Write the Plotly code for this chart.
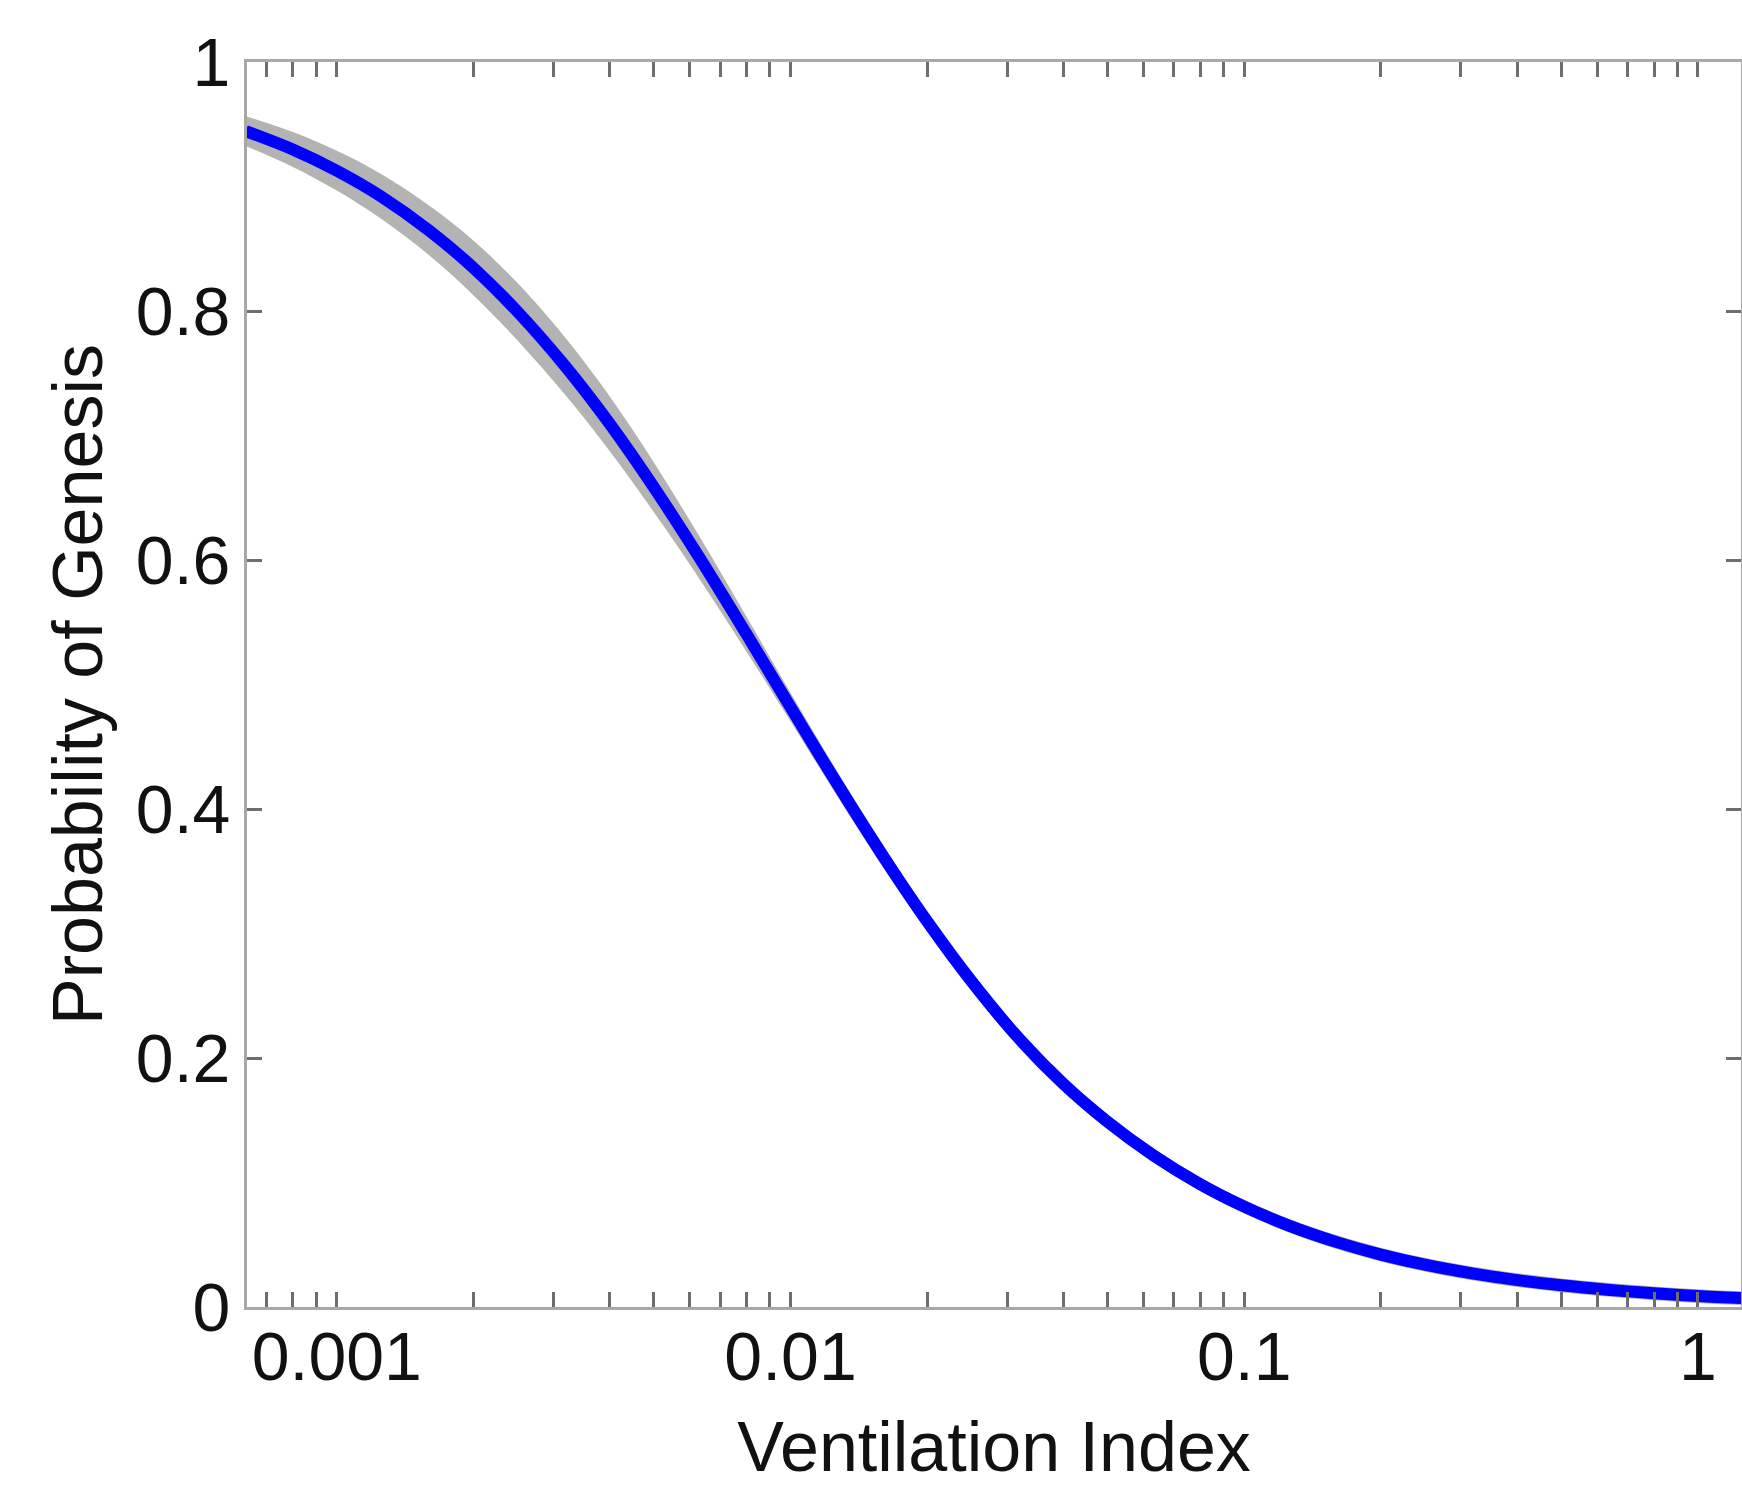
import math
import plotly.graph_objects as go

# Ventilation index (log scale) and fitted probability of genesis
ventilation = [0.00063, 0.0008, 0.001, 0.00125, 0.0016, 0.002, 0.0025, 0.0032,
               0.004, 0.005, 0.0063, 0.008, 0.01, 0.0125, 0.016, 0.02, 0.025,
               0.032, 0.04, 0.05, 0.063, 0.08, 0.1, 0.125, 0.16, 0.2, 0.25,
               0.32, 0.4, 0.5, 0.63, 0.8, 1.0, 1.25]
prob_genesis = [0.9445, 0.9297, 0.9127, 0.8922, 0.8645, 0.8347, 0.7996, 0.7549,
                0.7091, 0.6583, 0.6018, 0.5404, 0.4819, 0.4238, 0.3621, 0.3098,
                0.2620, 0.2150, 0.1790, 0.1487, 0.1219, 0.0986, 0.0806, 0.0656,
                0.0521, 0.0421, 0.0340, 0.0268, 0.0216, 0.0174, 0.0139, 0.0110,
                0.0088, 0.0071]
# Uncertainty envelope around the fit
prob_upper = [0.9565, 0.9437, 0.9287, 0.9102, 0.8845, 0.8567, 0.8226, 0.7779,
              0.7311, 0.6783, 0.6188, 0.5544, 0.4934, 0.4338, 0.3711, 0.3173,
              0.2690, 0.2215, 0.1850, 0.1547, 0.1274, 0.1041, 0.0861, 0.0711,
              0.0576, 0.0476, 0.0395, 0.0323, 0.0271, 0.0229, 0.0194, 0.0165,
              0.0143, 0.0126]
prob_lower = [0.9325, 0.9157, 0.8967, 0.8742, 0.8445, 0.8127, 0.7766, 0.7319,
              0.6871, 0.6383, 0.5848, 0.5264, 0.4704, 0.4138, 0.3531, 0.3023,
              0.2550, 0.2085, 0.1730, 0.1427, 0.1164, 0.0931, 0.0751, 0.0601,
              0.0466, 0.0366, 0.0285, 0.0213, 0.0161, 0.0119, 0.0084, 0.0055,
              0.0033, 0.0016]

# Axis ticks
x_decades = [0.001, 0.01, 0.1, 1]
x_decade_labels = ["0.001", "0.01", "0.1", "1"]
x_minor = [0.0007, 0.0008, 0.0009,
           0.002, 0.003, 0.004, 0.005, 0.006, 0.007, 0.008, 0.009,
           0.02, 0.03, 0.04, 0.05, 0.06, 0.07, 0.08, 0.09,
           0.2, 0.3, 0.4, 0.5, 0.6, 0.7, 0.8, 0.9]
y_ticks = [0, 0.2, 0.4, 0.6, 0.8, 1]
y_tick_labels = ["0", "0.2", "0.4", "0.6", "0.8", "1"]
x_range = [0.000634, 1.244]

x_tickvals = sorted(x_decades + x_minor)
x_ticktext = [x_decade_labels[x_decades.index(v)] if v in x_decades else ""
              for v in x_tickvals]

FONT = "Liberation Sans, Arial, Helvetica, sans-serif"
AXIS_GREY = "#a8a8a8"
TICK_GREY = "#6e6e6e"
TEXT = "#111111"

fig = go.Figure()

# grey envelope (lower edge, then filled up to the upper edge)
fig.add_trace(go.Scatter(
    x=ventilation, y=prob_lower, mode="lines",
    line=dict(width=0, shape="spline", smoothing=1.0),
    hoverinfo="skip", showlegend=False))
fig.add_trace(go.Scatter(
    x=ventilation, y=prob_upper, mode="lines", fill="tonexty",
    fillcolor="#b3b3b3",
    line=dict(width=0, shape="spline", smoothing=1.0),
    hoverinfo="skip", showlegend=False))
# fitted curve
fig.add_trace(go.Scatter(
    x=ventilation, y=prob_genesis, mode="lines",
    line=dict(color="#0000ff", width=12, shape="spline", smoothing=1.0),
    showlegend=False))

fig.update_layout(
    width=1742, height=1486,
    margin=dict(l=247, r=1, t=62, b=179),
    paper_bgcolor="white", plot_bgcolor="white",
    font=dict(family=FONT, size=68, color=TEXT),
)

fig.update_xaxes(
    type="log",
    range=[math.log10(x_range[0]), math.log10(x_range[1])],
    tickmode="array", tickvals=x_tickvals, ticktext=x_ticktext,
    ticks="inside", ticklen=15, tickwidth=3, tickcolor=TICK_GREY,
    showline=True, linecolor=AXIS_GREY, linewidth=3, mirror="ticks",
    showgrid=False, zeroline=False,
    tickfont=dict(family=FONT, size=68, color=TEXT),
    ticklabelstandoff=-12,
    title=dict(text="Ventilation Index", font=dict(family=FONT, size=70, color=TEXT),
               standoff=32),
    automargin=False,
)
fig.update_yaxes(
    range=[0, 1],
    tickmode="array", tickvals=y_ticks, ticktext=y_tick_labels,
    ticks="inside", ticklen=15, tickwidth=3, tickcolor=TICK_GREY,
    showline=True, linecolor=AXIS_GREY, linewidth=3, mirror="ticks",
    showgrid=False, zeroline=False,
    tickfont=dict(family=FONT, size=68, color=TEXT),
    ticklabelstandoff=0,
    title=dict(text="Probability of Genesis", font=dict(family=FONT, size=70, color=TEXT),
               standoff=11),
    automargin=False,
)

fig.write_html("out.html")
